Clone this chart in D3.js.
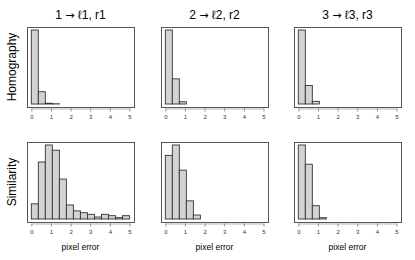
<!DOCTYPE html>
<html>
<head>
<meta charset="utf-8">
<script src="https://cdn.jsdelivr.net/npm/d3@7"></script>
<style>
  body { margin: 0; background: #fff; }
  svg { display: block; font-family: "Liberation Sans", Arial, sans-serif; }
</style>
</head>
<body>
<script>
var WIDTH = 415;
var HEIGHT = 260;

// column titles (split around the arrow) and row labels
var titleLeft = ["1", "2", "3"];
var titleRight = ["\u21131, r1", "\u21132, r2", "\u21133, r3"];
var rowLabels = ["Homography", "Similarity"];
var tickLabels = [0, 1, 2, 3, 4, 5];

// histogram bins: 14 equal bins over [0, 5]
var binStarts = [0, 0.357, 0.714, 1.071, 1.429, 1.786, 2.143, 2.5, 2.857, 3.214, 3.571, 3.929, 4.286, 4.643];
var binEnd = 5;

// relative counts per bin
var homography1 = [100, 16.6, 1, 0.3, 0, 0, 0, 0, 0, 0, 0, 0, 0, 0];
var homography2 = [100, 34, 3, 0, 0, 0, 0, 0, 0, 0, 0, 0, 0, 0];
var homography3 = [100, 25, 3.6, 0, 0, 0, 0, 0, 0, 0, 0, 0, 0, 0];
var similarity1 = [20.5, 77, 100, 93, 54, 19, 11, 8.5, 6.3, 2.7, 6.3, 4.5, 1.8, 4.5];
var similarity2 = [86, 100, 66, 24.5, 5.4, 0, 0, 0, 0, 0, 0, 0, 0, 0];
var similarity3 = [100, 74, 18, 1.8, 0, 0, 0, 0, 0, 0, 0, 0, 0, 0];

var panels = [
    [homography1, homography2, homography3],
    [similarity1, similarity2, similarity3]
];

var colLeft = [27, 161, 294];
var rowTop = [27, 142];
var boxW = 107, boxH = 80;

var svg = d3.select("body")
    .append("svg")
    .attr("width", WIDTH)
    .attr("height", HEIGHT);

titleLeft.forEach(function (t, c) {
    var txt = svg.append("text")
        .attr("x", colLeft[c] + boxW / 2)
        .attr("y", 19)
        .attr("text-anchor", "middle")
        .attr("font-size", 12)
        .attr("fill", "#000");
    txt.append("tspan").text(t + " ");
    txt.append("tspan").attr("font-family", "DejaVu Sans").attr("font-size", 11).text("\u2192");
    txt.append("tspan").text(" " + titleRight[c]);
});

rowLabels.forEach(function (t, r) {
    var cy = rowTop[r] + boxH / 2;
    svg.append("text")
        .attr("transform", "translate(16," + cy + ") rotate(-90)")
        .attr("text-anchor", "middle")
        .attr("font-size", 12)
        .attr("fill", "#000")
        .text(t);
});

panels.forEach(function (row, r) {
    row.forEach(function (values, c) {
        var left = colLeft[c], top = rowTop[r];
        var g = svg.append("g");

        var x = d3.scaleLinear().domain([0, 5]).range([left + 4.3, left + 102.5]);
        var y = d3.scaleLinear().domain([0, d3.max(values)]).range([top + 77, top + 3]);

        var bins = values.map(function (v, i) {
            return {x0: binStarts[i], x1: i + 1 < binStarts.length ? binStarts[i + 1] : binEnd, v: v};
        });

        g.selectAll("rect.bar")
            .data(bins)
            .enter()
            .append("rect")
            .attr("class", "bar")
            .attr("x", function (d) { return x(d.x0); })
            .attr("width", function (d) { return x(d.x1) - x(d.x0); })
            .attr("y", function (d) { return y(d.v); })
            .attr("height", function (d) { return y(0) - y(d.v); })
            .attr("fill", "#d3d3d3")
            .attr("stroke", "#333")
            .attr("stroke-width", 0.9);

        // frame
        g.append("rect")
            .attr("x", left + 0.5)
            .attr("y", top + 0.5)
            .attr("width", boxW)
            .attr("height", boxH)
            .attr("fill", "none")
            .attr("stroke", "#555")
            .attr("stroke-width", 1);

        var axis = d3.axisBottom(x)
            .tickValues(tickLabels)
            .tickSize(3)
            .tickSizeOuter(0)
            .tickPadding(3)
            .tickFormat(d3.format("d"));

        var ax = g.append("g")
            .attr("transform", "translate(0," + (top + boxH + 1.5) + ")")
            .call(axis);
        ax.select(".domain").attr("stroke", "#888").attr("stroke-width", 0.6);
        ax.selectAll(".tick line").attr("stroke", "#777").attr("stroke-width", 0.8);
        ax.selectAll(".tick text")
            .attr("font-size", 6)
            .attr("font-family", "Liberation Sans, Arial, sans-serif")
            .attr("fill", "#333");

        if (r === 1) {
            svg.append("text")
                .attr("x", left + boxW / 2)
                .attr("y", 250)
                .attr("text-anchor", "middle")
                .attr("font-size", 8.5)
                .attr("fill", "#000")
                .text("pixel error");
        }
    });
});
</script>
</body>
</html>
